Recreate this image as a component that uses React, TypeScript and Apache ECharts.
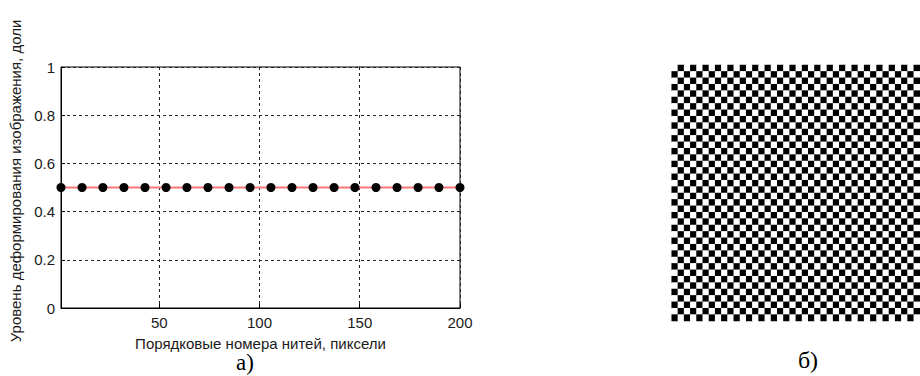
import React, { useEffect, useRef } from "react";
import * as echarts from "echarts";

// Left panel data
const threadNumbers = [1, 11.5, 21.9, 32.4, 42.9, 53.4, 63.8, 74.3, 84.8, 95.3, 105.7, 116.2, 126.7, 137.2, 147.6, 158.1, 168.6, 179.1, 189.5, 200];
const deformation = [0.5, 0.5, 0.5, 0.5, 0.5, 0.5, 0.5, 0.5, 0.5, 0.5, 0.5, 0.5, 0.5, 0.5, 0.5, 0.5, 0.5, 0.5, 0.5, 0.5];
const xTickValues = [50, 100, 150, 200];

// Right panel: 40x40 checkerboard (black where row+col is odd)
const BOARD_N = 40;
const boardRows = Array.from({ length: BOARD_N }, (_, i) => String(i));
const boardCols = Array.from({ length: BOARD_N }, (_, i) => String(i));
const boardCells: number[][] = [];
for (let r = 0; r < BOARD_N; r++) {
  for (let c = 0; c < BOARD_N; c++) {
    boardCells.push([c, r, (r + c) % 2]);
  }
}

const SANS = "'Liberation Sans', Arial, sans-serif";
const SERIF = "'Liberation Serif', 'Times New Roman', serif";

export default function App() {
  const ref = useRef<HTMLDivElement>(null);
  useEffect(() => {
    if (!ref.current) return;
    const chart = echarts.init(ref.current, undefined, { renderer: "svg" });
    const dash = { color: "#222", type: [3, 3] as number[], width: 1 };
    chart.setOption({
      animation: false,
      backgroundColor: "#fff",
      grid: [
        { left: 61, top: 67, width: 399, height: 241, show: true, borderColor: "#000", borderWidth: 1, containLabel: false },
        { left: 671.7, top: 65, width: 256.7, height: 256, show: false, containLabel: false },
      ],
      xAxis: [
        {
          type: "value",
          gridIndex: 0,
          min: 1,
          max: 200,
          axisLine: { show: true, lineStyle: { color: "#000" } },
          axisTick: { show: true, inside: true, length: 4, customValues: xTickValues, lineStyle: { color: "#000" } },
          axisLabel: { customValues: xTickValues, color: "#1a1a1a", fontFamily: SANS, fontSize: 15, margin: 7 },
          splitLine: { show: true, lineStyle: dash },
        },
        {
          type: "category",
          gridIndex: 1,
          data: boardCols,
          show: false,
        },
      ],
      yAxis: [
        {
          type: "value",
          gridIndex: 0,
          min: 0,
          max: 1,
          interval: 0.2,
          axisLine: { show: true, lineStyle: { color: "#000" } },
          axisTick: { show: true, inside: true, length: 4, lineStyle: { color: "#000" } },
          axisLabel: { color: "#1a1a1a", fontFamily: SANS, fontSize: 15, margin: 6 },
          splitLine: { show: true, lineStyle: dash },
        },
        {
          type: "category",
          gridIndex: 1,
          data: boardRows,
          inverse: true,
          show: false,
        },
      ],
      visualMap: {
        show: false,
        type: "piecewise",
        seriesIndex: 1,
        dimension: 2,
        pieces: [
          { value: 0, color: "#ffffff" },
          { value: 1, color: "#000000" },
        ],
      },
      series: [
        {
          type: "line",
          xAxisIndex: 0,
          yAxisIndex: 0,
          data: threadNumbers.map((x, i) => [x, deformation[i]]),
          clip: false,
          lineStyle: { color: "#ff7878", width: 2 },
          symbol: "circle",
          symbolSize: 9,
          itemStyle: { color: "#000", borderWidth: 0 },
          z: 3,
        },
        {
          type: "heatmap",
          xAxisIndex: 1,
          yAxisIndex: 1,
          data: boardCells,
          itemStyle: { borderWidth: 0 },
        },
      ],
      graphic: [
        {
          type: "text",
          x: 260.5,
          y: 343,
          style: { text: "Порядковые номера нитей, пиксели", fontFamily: SANS, fontSize: 15, fill: "#1a1a1a", align: "center", verticalAlign: "middle" },
        },
        {
          type: "text",
          x: 15,
          y: 181,
          rotation: Math.PI / 2,
          style: { text: "Уровень деформирования изображения, доли", fontFamily: SANS, fontSize: 15, fill: "#1a1a1a", align: "center", verticalAlign: "middle" },
        },
        {
          type: "text",
          x: 245,
          y: 362,
          style: { text: "а)", fontFamily: SERIF, fontSize: 23, fill: "#000", align: "center", verticalAlign: "middle" },
        },
        {
          type: "text",
          x: 808,
          y: 360,
          style: { text: "б)", fontFamily: SERIF, fontSize: 24, fill: "#000", align: "center", verticalAlign: "middle" },
        },
      ],
    });
    return () => chart.dispose();
  }, []);
  return <div ref={ref} style={{ position: "fixed", left: 0, top: 0, width: 920, height: 376 }} />;
}
